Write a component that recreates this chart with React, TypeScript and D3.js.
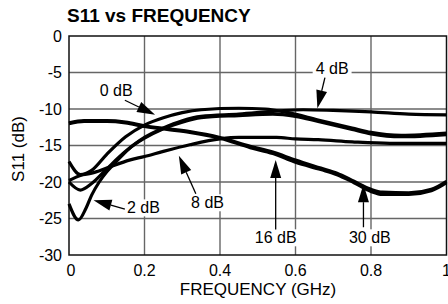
import React, { useEffect, useRef } from 'react';
import * as d3 from 'd3';

// S11 vs frequency, one curve per attenuation setting

const xTicks = [0, 0.2, 0.4, 0.6, 0.8, 1];
const xTickLabels = ['0', '0.2', '0.4', '0.6', '0.8', '1'];
const yTicks = [0, -5, -10, -15, -20, -25, -30];
const yTickLabels = ['0', '-5', '-10', '-15', '-20', '-25', '-30'];

// [GHz, dB]
const s0dB: [number, number][] = [
  [0, -17.2], [0.03, -19], [0.06, -18.4], [0.1, -16.2], [0.15, -13.8], [0.2, -12.2],
  [0.25, -11.2], [0.3, -10.5], [0.35, -10.1], [0.45, -9.9], [0.52, -10.0], [0.58, -10.5],
  [0.66, -11.5], [0.75, -12.6], [0.8, -13.2], [0.88, -13.6], [1, -13.3],
];
const s2dB: [number, number][] = [
  [0, -23], [0.025, -25.2], [0.045, -23.6], [0.06, -21.8], [0.08, -20], [0.1, -18.6],
  [0.125, -17.2], [0.16, -15.4], [0.2, -14], [0.25, -12.7], [0.3, -11.8], [0.35, -11.2],
  [0.45, -10.9], [0.54, -10.7], [0.6, -11.0], [0.66, -11.7], [0.75, -12.8], [0.8, -13.4],
  [0.88, -13.8], [1, -13.5],
];
const s4dB: [number, number][] = [
  [0, -20], [0.03, -21.1], [0.06, -20.2], [0.1, -18.2], [0.15, -15.8], [0.2, -13.9],
  [0.25, -12.6], [0.3, -11.6], [0.35, -11.0], [0.45, -10.7], [0.55, -10.3], [0.62, -10.1],
  [0.7, -10.2], [0.8, -10.4], [0.9, -10.7], [1, -10.8],
];
const s8dB: [number, number][] = [
  [0, -19.8], [0.03, -19.1], [0.06, -18.8], [0.1, -18.1], [0.16, -17.0], [0.2, -16.5],
  [0.25, -15.8], [0.32, -14.9], [0.4, -14.1], [0.45, -13.9], [0.55, -13.9], [0.6, -14.1],
  [0.66, -14.2], [0.75, -14.5], [0.85, -14.7], [1, -14.7],
];
const s16dB: [number, number][] = [
  [0, -11.9], [0.04, -11.6], [0.1, -11.6], [0.15, -11.8], [0.2, -12.3], [0.26, -12.7],
  [0.32, -13.1], [0.4, -13.9], [0.48, -15.1], [0.54, -15.9], [0.6, -17.0], [0.667, -18.1],
  [0.71, -18.8], [0.755, -19.9], [0.8, -21.0], [0.83, -21.4], [0.9, -21.5], [0.96, -21.0], [1, -19.9],
];
const s30dB: [number, number][] = [
  [0, -12.0], [0.04, -11.7], [0.1, -11.7], [0.15, -11.9], [0.2, -12.4], [0.26, -12.8],
  [0.32, -13.2], [0.4, -14.0], [0.48, -15.3], [0.54, -16.1], [0.6, -17.3], [0.667, -18.3],
  [0.71, -19.0], [0.755, -20.1], [0.8, -21.3], [0.83, -21.7], [0.9, -21.7], [0.96, -21.2], [1, -20.1],
];

const series = [s0dB, s2dB, s4dB, s8dB, s16dB, s30dB];

// label text position (GHz, dB baseline), arrow tail and tip
const labels = [
  { text: '0 dB', at: [0.125, -8.2], from: [0.148, -8.8], to: [0.228, -10.8], box: false },
  { text: '2 dB', at: [0.197, -24.3], from: [0.148, -23.7], to: [0.065, -22.5], box: true },
  { text: '8 dB', at: [0.367, -23.6], from: [0.336, -21.6], to: [0.291, -16.4], box: true },
  { text: '16 dB', at: [0.5475, -28.4], from: [0.5475, -26.5], to: [0.5475, -17.0], box: true },
  { text: '30 dB', at: [0.797, -28.4], from: [0.78, -26.2], to: [0.78, -20.3], box: true },
  { text: '4 dB', at: [0.697, -5.2], from: [0.678, -5.7], to: [0.658, -9.9], box: true },
];

const App = () => {
  const svgRef = useRef<SVGSVGElement>(null);

  useEffect(() => {
    const width = 448;
    const height = 304;
    const font = "'Liberation Sans', Arial, sans-serif";

    const svg = d3.select(svgRef.current);
    svg.selectAll('*').remove();

    const x = d3.scaleLinear().domain([0, 1]).range([69, 446.5]);
    const y = d3.scaleLinear().domain([-30, 0]).range([255, 36]);

    svg.append('rect').attr('width', width).attr('height', height).attr('fill', '#fff');

    // grid
    svg.append('g')
      .selectAll('line')
      .data(xTicks.slice(1, -1))
      .enter()
      .append('line')
      .attr('x1', d => x(d)).attr('x2', d => x(d))
      .attr('y1', y(0)).attr('y2', y(-30))
      .attr('stroke', '#666').attr('stroke-width', 1.4);

    svg.append('g')
      .selectAll('line')
      .data(yTicks.slice(1, -1))
      .enter()
      .append('line')
      .attr('x1', x(0)).attr('x2', x(1))
      .attr('y1', d => y(d)).attr('y2', d => y(d))
      .attr('stroke', '#666').attr('stroke-width', 1.4);

    svg.append('rect')
      .attr('x', x(0)).attr('y', y(0))
      .attr('width', x(1) - x(0)).attr('height', y(-30) - y(0))
      .attr('fill', 'none').attr('stroke', '#111').attr('stroke-width', 1.5);

    // curves
    const line = d3.line<[number, number]>()
      .x(d => x(d[0]))
      .y(d => y(d[1]))
      .curve(d3.curveMonotoneX);

    svg.append('g')
      .selectAll('path')
      .data(series)
      .enter()
      .append('path')
      .attr('d', d => line(d))
      .attr('fill', 'none')
      .attr('stroke', '#000')
      .attr('stroke-width', 3.2)
      .attr('stroke-linejoin', 'round');

    // annotations
    const ann = svg.append('g').attr('font-family', font).attr('font-size', 16);
    labels.forEach(l => {
      const t = ann.append('text')
        .attr('x', x(l.at[0])).attr('y', y(l.at[1]))
        .attr('text-anchor', 'middle')
        .text(l.text);
      if (l.box) {
        const b = (t.node() as SVGTextElement).getBBox();
        ann.insert('rect', () => t.node())
          .attr('x', b.x - 3).attr('y', b.y)
          .attr('width', b.width + 6).attr('height', b.height)
          .attr('fill', '#fff');
      }
      const x1 = x(l.from[0]), y1 = y(l.from[1]);
      const x2 = x(l.to[0]), y2 = y(l.to[1]);
      const len = Math.hypot(x2 - x1, y2 - y1);
      const ux = (x2 - x1) / len, uy = (y2 - y1) / len;
      const hl = 18, hw = 5.5;
      const bx = x2 - ux * hl, by = y2 - uy * hl;
      ann.append('line')
        .attr('x1', x1).attr('y1', y1).attr('x2', bx).attr('y2', by)
        .attr('stroke', '#000').attr('stroke-width', 1.3);
      ann.append('path')
        .attr('d', `M${x2},${y2}L${bx - uy * hw},${by + ux * hw}L${bx + uy * hw},${by - ux * hw}Z`)
        .attr('fill', '#000');
    });

    // tick labels
    svg.append('g')
      .attr('font-family', font).attr('font-size', 16)
      .selectAll('text')
      .data(xTicks)
      .enter()
      .append('text')
      .attr('x', d => x(d) + (d === 0 ? 2 : 0))
      .attr('y', 276)
      .attr('text-anchor', 'middle')
      .text((d, i) => xTickLabels[i]);

    svg.append('g')
      .attr('font-family', font).attr('font-size', 16)
      .selectAll('text')
      .data(yTicks)
      .enter()
      .append('text')
      .attr('x', 62)
      .attr('y', d => y(d))
      .attr('dy', '0.36em')
      .attr('text-anchor', 'end')
      .text((d, i) => yTickLabels[i]);

    // titles
    svg.append('text')
      .attr('x', 67).attr('y', 22)
      .attr('font-family', font).attr('font-size', 19).attr('font-weight', 'bold')
      .text('S11 vs FREQUENCY');

    svg.append('text')
      .attr('x', 258).attr('y', 295)
      .attr('text-anchor', 'middle')
      .attr('font-family', font).attr('font-size', 17)
      .text('FREQUENCY (GHz)');

    svg.append('text')
      .attr('transform', 'translate(23.5,149) rotate(-90)')
      .attr('text-anchor', 'middle')
      .attr('font-family', font).attr('font-size', 17)
      .text('S11 (dB)');
  }, []);

  return (
    <svg
      ref={svgRef}
      width="448"
      height="304"
      style={{ position: 'absolute', left: 0, top: 0 }}
    />
  );
};

export default App;
